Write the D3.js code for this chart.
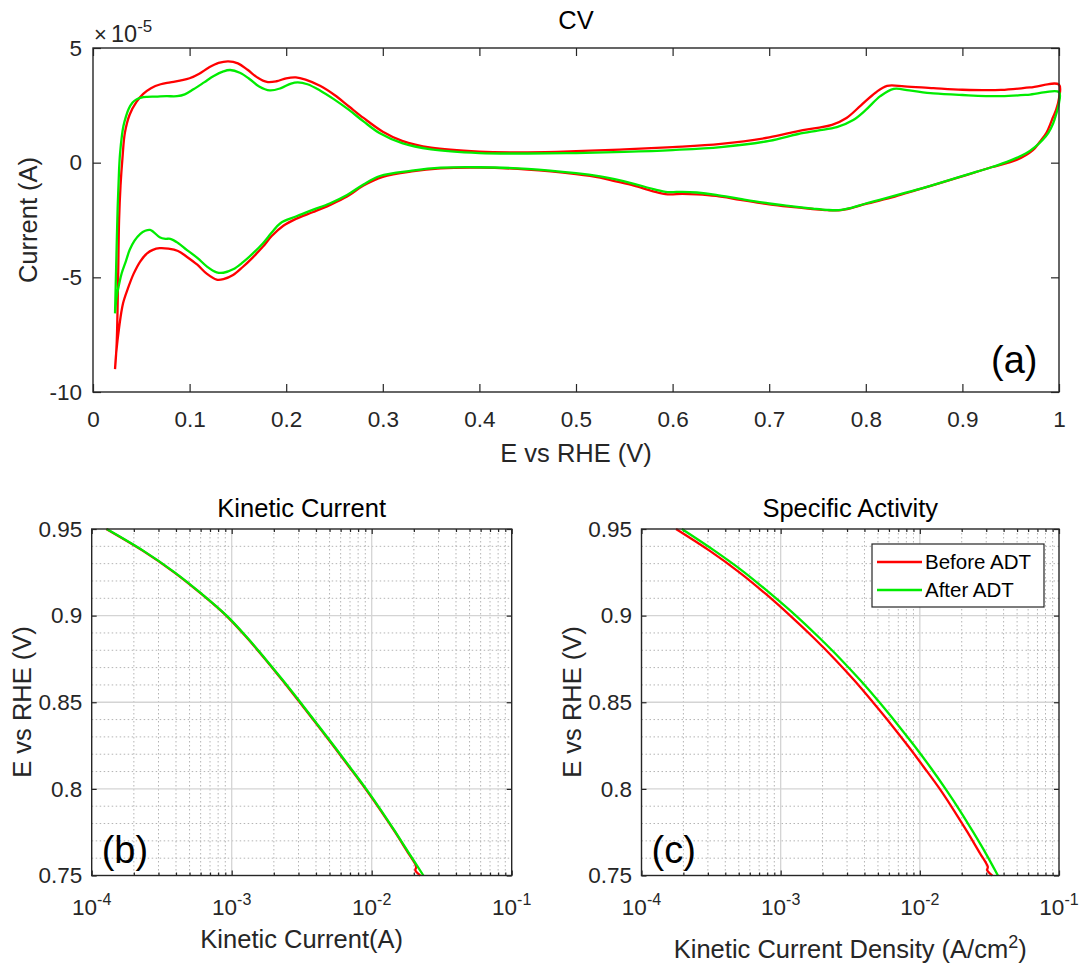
<!DOCTYPE html>
<html><head><meta charset="utf-8">
<script src="https://cdn.jsdelivr.net/npm/d3@7"></script>
<style>
body{margin:0;background:#fff}
svg{display:block}
text{font-family:"Liberation Sans",Arial,Helvetica,sans-serif}
</style>
</head><body><script>
// ---------------- DATA ----------------
// CV (a): [E vs RHE (V), current (x1e-5 A)]
const cvBeforeUpper = [[0.0228,-9.0],[0.0245,-7.9],[0.026,-5.0],[0.027,-2.5],[0.0285,-1.0],[0.0305,0.2],[0.033,1.3],[0.038,2.1],[0.045,2.65],[0.052,3.0],[0.06,3.25],[0.07,3.42],[0.08,3.5],[0.09,3.58],[0.1,3.68],[0.11,3.88],[0.12,4.15],[0.13,4.35],[0.14,4.42],[0.15,4.33],[0.16,4.05],[0.17,3.72],[0.18,3.52],[0.19,3.55],[0.2,3.68],[0.21,3.72],[0.22,3.62],[0.235,3.35],[0.25,2.95],[0.265,2.45],[0.28,1.95],[0.3,1.35],[0.32,0.95],[0.35,0.65],[0.4,0.48],[0.45,0.45],[0.5,0.5],[0.55,0.58],[0.6,0.68],[0.65,0.82],[0.7,1.1],[0.73,1.38],[0.75,1.52],[0.765,1.65],[0.78,1.95],[0.795,2.5],[0.81,3.05],[0.822,3.35],[0.84,3.33],[0.87,3.25],[0.9,3.18],[0.94,3.17],[0.97,3.28],[1.0,3.4]];
const cvBeforeLower = [[1.0,2.8],[0.997,2.3],[0.994,2.0],[0.987,1.3],[0.98,0.9],[0.973,0.55],[0.956,0.12],[0.93,-0.2],[0.904,-0.54],[0.88,-0.85],[0.853,-1.19],[0.83,-1.48],[0.8,-1.8],[0.785,-1.98],[0.772,-2.08],[0.76,-2.07],[0.745,-2.02],[0.72,-1.92],[0.7,-1.82],[0.67,-1.62],[0.645,-1.45],[0.625,-1.38],[0.61,-1.36],[0.595,-1.38],[0.58,-1.25],[0.56,-1.0],[0.54,-0.8],[0.525,-0.65],[0.5,-0.5],[0.45,-0.3],[0.4,-0.22],[0.36,-0.25],[0.33,-0.38],[0.3,-0.62],[0.28,-1.0],[0.263,-1.48],[0.245,-1.85],[0.228,-2.15],[0.21,-2.45],[0.197,-2.75],[0.185,-3.2],[0.176,-3.66],[0.165,-4.15],[0.155,-4.55],[0.145,-4.9],[0.135,-5.08],[0.128,-5.1],[0.118,-4.85],[0.108,-4.45],[0.097,-4.1],[0.088,-3.85],[0.078,-3.75],[0.069,-3.73],[0.062,-3.8],[0.056,-3.95],[0.049,-4.3],[0.042,-4.85],[0.036,-5.5],[0.031,-6.15],[0.027,-7.2],[0.024,-8.3],[0.0228,-9.0]];
const cvAfterUpper = [[0.0228,-6.57],[0.024,-4.5],[0.0255,-2.0],[0.027,-0.3],[0.028,0.4],[0.03,1.2],[0.0315,1.6],[0.034,2.0],[0.037,2.35],[0.041,2.62],[0.045,2.76],[0.05,2.84],[0.056,2.87],[0.065,2.88],[0.076,2.9],[0.087,2.9],[0.095,2.98],[0.104,3.2],[0.115,3.5],[0.125,3.78],[0.135,3.98],[0.142,4.04],[0.152,3.92],[0.162,3.65],[0.172,3.32],[0.183,3.15],[0.194,3.24],[0.205,3.45],[0.212,3.5],[0.222,3.42],[0.235,3.15],[0.25,2.75],[0.265,2.3],[0.28,1.8],[0.297,1.28],[0.32,0.85],[0.35,0.58],[0.4,0.42],[0.45,0.4],[0.5,0.42],[0.55,0.47],[0.6,0.55],[0.65,0.68],[0.7,0.95],[0.73,1.25],[0.75,1.4],[0.77,1.55],[0.787,1.86],[0.8,2.3],[0.815,2.9],[0.829,3.22],[0.845,3.15],[0.87,3.02],[0.9,2.95],[0.94,2.9],[0.97,2.97],[1.0,3.08]];
const cvAfterLower = [[1.0,2.6],[0.997,2.1],[0.994,1.72],[0.989,1.3],[0.983,0.99],[0.975,0.68],[0.966,0.41],[0.95,0.1],[0.93,-0.2],[0.904,-0.53],[0.853,-1.18],[0.8,-1.78],[0.785,-1.97],[0.772,-2.07],[0.76,-2.06],[0.745,-2.0],[0.72,-1.88],[0.7,-1.78],[0.67,-1.58],[0.645,-1.4],[0.625,-1.3],[0.61,-1.27],[0.595,-1.28],[0.58,-1.15],[0.56,-0.92],[0.54,-0.72],[0.525,-0.6],[0.5,-0.46],[0.45,-0.27],[0.4,-0.2],[0.36,-0.22],[0.33,-0.35],[0.297,-0.58],[0.28,-0.95],[0.263,-1.41],[0.245,-1.78],[0.228,-2.05],[0.21,-2.35],[0.194,-2.64],[0.185,-3.05],[0.176,-3.51],[0.165,-3.98],[0.155,-4.35],[0.145,-4.65],[0.135,-4.8],[0.128,-4.78],[0.118,-4.53],[0.108,-4.15],[0.097,-3.8],[0.088,-3.5],[0.08,-3.32],[0.075,-3.32],[0.069,-3.25],[0.062,-3.0],[0.059,-2.93],[0.054,-2.97],[0.049,-3.1],[0.043,-3.4],[0.038,-3.8],[0.034,-4.3],[0.0297,-4.82],[0.027,-5.3],[0.0245,-5.84],[0.0228,-6.57]];

// Kinetic current (b): [current (A), E (V)]
const kinBefore = [[1.27e-4,0.95],[2.31e-4,0.9375],[3.88e-4,0.925],[6.07e-4,0.9125],[9.13e-4,0.9],[1.275e-3,0.8875],[1.73e-3,0.875],[2.31e-3,0.8625],[3.06e-3,0.85],[4.03e-3,0.8375],[5.3e-3,0.825],[6.93e-3,0.8125],[9.03e-3,0.8],[1.16e-2,0.7875],[1.47e-2,0.775],[1.84e-2,0.7625],[2.0e-2,0.758],[2.08e-2,0.755],[2.05e-2,0.753],[2.22e-2,0.75]];
const kinAfter  = [[1.28e-4,0.95],[2.33e-4,0.9375],[3.91e-4,0.925],[6.12e-4,0.9125],[9.2e-4,0.9],[1.285e-3,0.8875],[1.74e-3,0.875],[2.33e-3,0.8625],[3.09e-3,0.85],[4.07e-3,0.8375],[5.35e-3,0.825],[7.0e-3,0.8125],[9.12e-3,0.8],[1.17e-2,0.7875],[1.48e-2,0.775],[1.86e-2,0.7625],[2.34e-2,0.75]];

// Specific activity (c): [current density (A/cm2), E (V)]
const saBefore = [[1.77e-4,0.95],[3.08e-4,0.9375],[5.05e-4,0.925],[7.82e-4,0.9125],[1.17e-3,0.9],[1.71e-3,0.8875],[2.44e-3,0.875],[3.39e-3,0.8625],[4.6e-3,0.85],[6.18e-3,0.8375],[8.18e-3,0.825],[1.07e-2,0.8125],[1.39e-2,0.8],[1.76e-2,0.7875],[2.2e-2,0.775],[2.72e-2,0.7625],[2.95e-2,0.758],[3.08e-2,0.755],[3.05e-2,0.753],[3.32e-2,0.75]];
const saAfter  = [[1.95e-4,0.95],[3.34e-4,0.9375],[5.48e-4,0.925],[8.49e-4,0.9125],[1.285e-3,0.9],[1.88e-3,0.8875],[2.69e-3,0.875],[3.75e-3,0.8625],[5.12e-3,0.85],[6.87e-3,0.8375],[9.1e-3,0.825],[1.19e-2,0.8125],[1.53e-2,0.8],[1.94e-2,0.7875],[2.42e-2,0.775],[2.99e-2,0.7625],[3.64e-2,0.75]];

const seriesNames = ["Before ADT","After ADT"];
const cvTicksX = [0,0.1,0.2,0.3,0.4,0.5,0.6,0.7,0.8,0.9,1];
const cvTicksY = [-10,-5,0,5];
const cvTickLabelsY = ["-10","-5","0","5"];
const logTicks = [1e-4,1e-3,1e-2,1e-1];
const logTickExps = ["-4","-3","-2","-1"];
const eTicks = [0.75,0.8,0.85,0.9,0.95];
const eTickLabels = ["0.75","0.8","0.85","0.9","0.95"];

// ---------------- STYLE ----------------
const RED = "#ff0000", GREEN = "#00ec00";
const AX = "#262626";
const TICKFS = 22.5, LABFS = 25.5;

const svg = d3.select("body").append("svg").attr("width",1083).attr("height",964);

function styleAxis(g){
  g.attr("font-family",null).attr("font-size",null);
  g.select(".domain").remove();
  g.selectAll("line").attr("stroke",AX).attr("stroke-width",1.2);
  g.selectAll("text").attr("fill",AX).style("font-size",TICKFS+"px");
}

// ---------------- (a) CV ----------------
const xA = d3.scaleLinear().domain([0,1]).range([93,1059]);
const yA = d3.scaleLinear().domain([-10,5]).range([392,48]);
const gA = svg.append("g");

gA.append("g").attr("transform","translate(0,392)")
  .call(d3.axisBottom(xA).tickValues(cvTicksX).tickSizeInner(-8).tickSizeOuter(0).tickPadding(19).tickFormat(d=>String(d)))
  .call(styleAxis);
gA.append("g").attr("transform","translate(0,48)")
  .call(d3.axisTop(xA).tickValues(cvTicksX).tickSizeInner(-8).tickSizeOuter(0).tickFormat(""))
  .call(styleAxis);
gA.append("g").attr("transform","translate(93,0)")
  .call(d3.axisLeft(yA).tickValues(cvTicksY).tickSizeInner(-8).tickSizeOuter(0).tickPadding(11).tickFormat((d,i)=>cvTickLabelsY[i]))
  .call(styleAxis);
gA.append("g").attr("transform","translate(1059,0)")
  .call(d3.axisRight(yA).tickValues(cvTicksY).tickSizeInner(-8).tickSizeOuter(0).tickFormat(""))
  .call(styleAxis);

const lineA = d3.line().x(d=>xA(d[0])).y(d=>yA(d[1])).curve(d3.curveCatmullRom.alpha(0.5));
gA.append("path").attr("d",lineA(cvBeforeUpper.concat(cvBeforeLower))).attr("fill","none").attr("stroke",RED).attr("stroke-width",2.3).attr("stroke-linejoin","round");
gA.append("path").attr("d",lineA(cvAfterUpper.concat(cvAfterLower))).attr("fill","none").attr("stroke",GREEN).attr("stroke-width",2.3).attr("stroke-linejoin","round");

gA.append("rect").attr("x",93).attr("y",48).attr("width",1059-93).attr("height",392-48)
  .attr("fill","none").attr("stroke",AX).attr("stroke-width",1.4);

gA.append("text").attr("x",576).attr("y",29).attr("text-anchor","middle").style("font-size",LABFS+"px").attr("fill","#000").text("CV");
gA.append("text").attr("x",94).attr("y",41.5).attr("fill",AX).style("font-size","22px").text("\u00d7");
const mult = gA.append("text").attr("x",111).attr("y",41.5).attr("fill",AX).style("font-size","23.5px");
mult.append("tspan").text("10");
mult.append("tspan").attr("dy",-10).style("font-size","17px").text("-5");
gA.append("text").attr("transform","translate(37,220) rotate(-90)").attr("text-anchor","middle").attr("fill",AX).style("font-size",LABFS+"px").text("Current (A)");
gA.append("text").attr("x",576).attr("y",461.5).attr("text-anchor","middle").attr("fill",AX).style("font-size",LABFS+"px").text("E vs RHE (V)");
gA.append("text").attr("x",991).attr("y",373).attr("fill","#000").style("font-size","38px").text("(a)");

// ---------------- Tafel panels ----------------
function tafelPanel(x0, x1, before, after, title, xlabel, tag, legend, xlabBaseline){
  const x = d3.scaleLog().domain([1e-4,1e-1]).range([x0,x1]);
  const y = d3.scaleLinear().domain([0.75,0.95]).range([875.5,529]);
  const g = svg.append("g");
  const top = 529, bot = 875.5;
  const minorX = [];
  for (const dec of [1e-4,1e-3,1e-2]) for (const m of [2,3,4,5,6,7,8,9]) minorX.push(m*dec);
  const minorY = d3.range(76,95).filter(v=>v%5!==0).map(v=>v/100);
  // minor grid
  g.append("g").selectAll("line").data(minorX).join("line")
    .attr("x1",d=>x(d)).attr("x2",d=>x(d)).attr("y1",top).attr("y2",bot)
    .attr("stroke","#b4b4b4").attr("stroke-width",1).attr("stroke-dasharray","1.5,2.5");
  g.append("g").selectAll("line").data(minorY).join("line")
    .attr("x1",x0).attr("x2",x1).attr("y1",d=>y(d)).attr("y2",d=>y(d))
    .attr("stroke","#b4b4b4").attr("stroke-width",1).attr("stroke-dasharray","1.5,2.5");
  // major grid
  g.append("g").selectAll("line").data(logTicks.slice(1,3)).join("line")
    .attr("x1",d=>x(d)).attr("x2",d=>x(d)).attr("y1",top).attr("y2",bot)
    .attr("stroke","#d4d4d4").attr("stroke-width",1.3);
  g.append("g").selectAll("line").data(eTicks.slice(1,4)).join("line")
    .attr("x1",x0).attr("x2",x1).attr("y1",d=>y(d)).attr("y2",d=>y(d))
    .attr("stroke","#d4d4d4").attr("stroke-width",1.3);
  // ticks
  g.append("g").attr("transform",`translate(0,${bot})`)
    .call(d3.axisBottom(x).tickValues(logTicks).tickSizeInner(-5).tickSizeOuter(0).tickFormat(""))
    .call(styleAxis);
  g.append("g").attr("transform",`translate(0,${bot})`)
    .call(d3.axisBottom(x).tickValues(minorX).tickSizeInner(-3).tickSizeOuter(0).tickFormat(""))
    .call(styleAxis);
  g.append("g").attr("transform",`translate(0,${top})`)
    .call(d3.axisTop(x).tickValues(logTicks).tickSizeInner(-5).tickSizeOuter(0).tickFormat(""))
    .call(styleAxis);
  g.append("g").attr("transform",`translate(0,${top})`)
    .call(d3.axisTop(x).tickValues(minorX).tickSizeInner(-3).tickSizeOuter(0).tickFormat(""))
    .call(styleAxis);
  g.append("g").attr("transform",`translate(${x0},0)`)
    .call(d3.axisLeft(y).tickValues(eTicks).tickSizeInner(-5).tickSizeOuter(0).tickPadding(9.5).tickFormat((d,i)=>eTickLabels[i]))
    .call(styleAxis);
  g.append("g").attr("transform",`translate(${x1},0)`)
    .call(d3.axisRight(y).tickValues(eTicks).tickSizeInner(-5).tickSizeOuter(0).tickFormat(""))
    .call(styleAxis);
  // log tick labels
  const tl = g.append("g").selectAll("text").data(logTicks).join("text")
    .attr("x",d=>x(d)).attr("y",915).attr("text-anchor","middle").attr("fill",AX).style("font-size",TICKFS+"px");
  tl.append("tspan").text("10");
  tl.append("tspan").attr("dy",-10).style("font-size","16px").text((d,i)=>logTickExps[i]);
  // lines
  const line = d3.line().x(d=>x(d[0])).y(d=>y(d[1])).curve(d3.curveCatmullRom.alpha(0.5));
  g.append("path").attr("d",line(before)).attr("fill","none").attr("stroke",RED).attr("stroke-width",2.3).attr("stroke-linejoin","round");
  g.append("path").attr("d",line(after)).attr("fill","none").attr("stroke",GREEN).attr("stroke-width",2.3).attr("stroke-linejoin","round");
  // box
  g.append("rect").attr("x",x0).attr("y",top).attr("width",x1-x0).attr("height",bot-top)
    .attr("fill","none").attr("stroke",AX).attr("stroke-width",1.4);
  // texts
  const cx = (x0+x1)/2;
  g.append("text").attr("x",cx).attr("y",517).attr("text-anchor","middle").attr("fill","#000").style("font-size",LABFS+"px").text(title);
  const xl = g.append("text").attr("x",cx).attr("y",xlabBaseline).attr("text-anchor","middle").attr("fill",AX).style("font-size",LABFS+"px");
  xl.append("tspan").text(xlabel[0]);
  if (xlabel[1]) { xl.append("tspan").attr("dy",-10).style("font-size","18px").text(xlabel[1]); xl.append("tspan").attr("dy",10).text(xlabel[2]); }
  g.append("text").attr("transform",`translate(${x0-61},702) rotate(-90)`).attr("text-anchor","middle").attr("fill",AX).style("font-size",LABFS+"px").text("E vs RHE (V)");
  g.append("text").attr("x",x0+10).attr("y",863).attr("fill","#000").style("font-size","38px").text(tag);
  if (legend){
    const lg = g.append("g");
    lg.append("rect").attr("x",872).attr("y",544).attr("width",172).attr("height",63).attr("fill","#fff").attr("stroke",AX).attr("stroke-width",1.2);
    const rows = [[seriesNames[0],RED,562],[seriesNames[1],GREEN,590]];
    rows.forEach(r=>{
      lg.append("line").attr("x1",877).attr("x2",922).attr("y1",r[2]).attr("y2",r[2]).attr("stroke",r[1]).attr("stroke-width",2.3);
      lg.append("text").attr("x",925).attr("y",r[2]).attr("dy","0.36em").attr("fill","#000").style("font-size","20.5px").text(r[0]);
    });
  }
}

tafelPanel(91.7, 511.7, kinBefore, kinAfter, "Kinetic Current", ["Kinetic Current(A)"], "(b)", false, 948);
tafelPanel(641.5, 1059, saBefore, saAfter, "Specific Activity", ["Kinetic Current Density (A/cm","2",")"], "(c)", true, 958);
</script></body></html>
